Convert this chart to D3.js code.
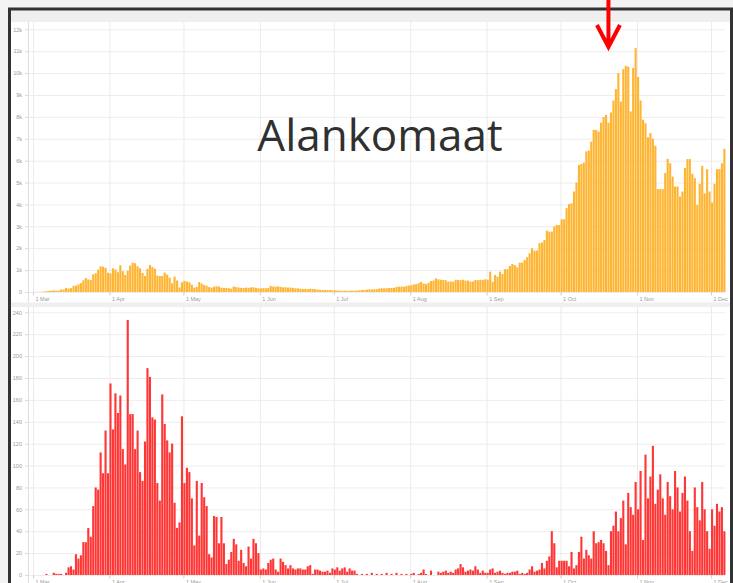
<!DOCTYPE html>
<html>
<head>
<meta charset="utf-8">
<script src="https://cdn.jsdelivr.net/npm/d3@7"></script>
<style>
  body { margin: 0; background: #f3f3f3; }
  svg { display: block; }
  .tick text { font-family: "Liberation Sans", Arial, sans-serif; fill: #9a9a9a; }
</style>
</head>
<body>
<svg id="chart" width="733" height="583"></svg>
<script>
"use strict";

// first day of the series, then one value per day
const startDate = "2020-02-27";

// daily new cases
const cases = [
    1, 1, 5,
    5, 8, 6, 14, 20, 44, 46, 60, 77, 56,
    61, 121, 111, 190, 155, 176, 278, 292, 346, 409,
    534, 637, 573, 545, 811, 852, 1019, 1172, 1159, 1104,
    884, 845, 1083, 1026, 904, 1224, 952, 777, 969, 1213,
    1335, 1316, 1174, 1083, 868, 734, 1061, 1235, 1140, 1066,
    750, 729, 734, 887, 797, 655, 400, 704, 525, 211,
    445, 514, 475, 445, 335, 199, 232, 455, 387, 319,
    286, 226, 196, 244, 264, 244, 196, 184, 190, 172,
    151, 251, 222, 204, 190, 180, 200, 190, 210, 215,
    190, 170, 165, 175, 170, 180, 275, 250, 240, 260,
    230, 210, 215, 200, 205, 190, 170, 165, 150, 140,
    145, 130, 150, 140, 130, 110, 100, 95, 90, 88,
    85, 80, 75, 70, 60, 55, 60, 55, 58, 62,
    60, 65, 80, 90, 95, 110, 120, 115, 125, 130,
    160, 170, 165, 175, 180, 185, 190, 230, 245, 250,
    240, 270, 300, 310, 340, 360, 400, 457, 380, 365,
    420, 500, 520, 625, 580, 560, 550, 540, 470, 480,
    470, 560, 550, 540, 560, 520, 520, 470, 480, 550,
    540, 560, 550, 580, 560, 930, 470, 780, 700, 930,
    820, 1040, 1040, 1190, 1280, 1230, 1130, 1340, 1340, 1460,
    1590, 1770, 2000, 1890, 1900, 2230, 2260, 2380, 2800, 2750,
    2760, 2990, 3060, 3060, 3320, 3320, 3830, 4020, 4050, 4590,
    5000, 5810, 5850, 5910, 6420, 6460, 6870, 7410, 7400, 7330,
    7740, 7990, 8090, 7740, 8200, 8750, 9270, 10000, 8700, 10180,
    10330, 10300, 8250, 10230, 11140, 9820, 8750, 7870, 7710, 7070,
    7260, 7000, 6680, 4700, 4700, 4700, 5430, 6080, 5880, 5270,
    4820, 4820, 4360, 4590, 5660, 6070, 6070, 5400, 5200, 3980,
    4940, 5760, 4510, 5610, 4590, 4090, 4940, 5610, 5610, 5880, 6540
];

// daily deaths
const deaths = [
    0, 0, 0,
    0, 0, 0, 0, 0, 1, 0, 0, 2, 1,
    1, 1, 0, 2, 7, 8, 5, 19, 15, 18,
    30, 30, 43, 35, 63, 80, 78, 112, 93, 132,
    93, 175, 133, 166, 148, 164, 115, 101, 233, 147,
    147, 115, 132, 94, 86, 122, 189, 181, 144, 142,
    84, 68, 165, 138, 123, 112, 120, 66, 43, 48,
    145, 84, 98, 94, 70, 27, 86, 36, 84, 71,
    63, 19, 16, 54, 53, 29, 53, 29, 10, 14,
    21, 33, 28, 13, 23, 11, 8, 26, 15, 33,
    29, 20, 5, 6, 5, 11, 14, 15, 5, 3,
    15, 12, 9, 6, 9, 6, 5, 6, 6, 5,
    5, 8, 9, 1, 5, 5, 4, 3, 3, 4,
    2, 6, 5, 7, 4, 6, 7, 3, 6, 4,
    4, 1, 0, 1, 0, 1, 0, 2, 0, 1,
    0, 1, 0, 2, 0, 1, 0, 2, 0, 1,
    0, 1, 0, 1, 2, 0, 1, 2, 5, 1,
    0, 4, 0, 0, 3, 2, 3, 4, 2, 3,
    2, 5, 6, 10, 7, 3, 4, 5, 4, 8,
    5, 2, 4, 2, 2, 5, 6, 2, 3, 4,
    2, 1, 2, 2, 3, 3, 4, 1, 2, 1,
    2, 5, 8, 3, 4, 5, 11, 6, 13, 17,
    40, 29, 7, 13, 13, 13, 13, 8, 21, 6,
    9, 21, 35, 15, 23, 18, 15, 40, 29, 30,
    32, 29, 22, 9, 40, 45, 58, 40, 52, 68,
    28, 75, 62, 55, 85, 60, 95, 32, 110, 70,
    90, 118, 65, 78, 92, 70, 55, 85, 72, 60,
    95, 80, 58, 75, 90, 68, 40, 22, 80, 62,
    50, 85, 60, 40, 24, 60, 45, 65, 58, 62, 40
];

const casesTicks = d3.range(0, 12001, 1000);
const deathsTicks = d3.range(0, 241, 20);
const title = "Alankomaat";
const arrowDate = "2020-10-20";

const parse = d3.utcParse("%Y-%m-%d");
const day0 = parse(startDate);
const days = cases.map((c, i) => d3.utcDay.offset(day0, i));

const svg = d3.select("#chart");

// page background, frame and panels
svg.append("rect").attr("width", 733).attr("height", 583).attr("fill", "#f3f3f3");
svg.append("rect")
    .attr("x", 9.5).attr("y", 9)
    .attr("width", 722).attr("height", 600)
    .attr("fill", "#efefef")
    .attr("stroke", "#333").attr("stroke-width", 3);

const x = d3.scaleUtc()
    .domain([parse("2020-03-01"), parse("2020-12-01")])
    .range([33, 711]);

function panel(values, ticks, top, y0, yTop, color, fmt) {
    svg.append("rect")
        .attr("x", 11).attr("y", top)
        .attr("width", 719).attr("height", y0 - top + 12)
        .attr("fill", "#fff");

    const y = d3.scaleLinear()
        .domain([0, ticks[ticks.length - 1]])
        .range([y0, yTop]);

    // horizontal grid
    svg.append("g")
        .attr("transform", "translate(28,0)")
        .call(d3.axisLeft(y).tickValues(ticks).tickSize(-697).tickFormat(""))
        .call(g => g.select(".domain").remove())
        .call(g => g.selectAll("line").attr("stroke", "#ededed"));

    // vertical grid at month starts
    svg.append("g")
        .attr("transform", `translate(0,${y0 + 4})`)
        .call(d3.axisBottom(x).ticks(d3.utcMonth.every(1)).tickSize(-(y0 + 4 - top)).tickFormat(""))
        .call(g => g.select(".domain").remove())
        .call(g => g.selectAll("line").attr("stroke", "#ebebeb"));

    // left axis
    svg.append("g")
        .attr("transform", "translate(28,0)")
        .call(d3.axisLeft(y).tickValues(ticks).tickSize(3).tickPadding(3).tickFormat(fmt))
        .call(g => g.select(".domain").remove())
        .call(g => g.selectAll("line").attr("stroke", "#d8d8d8"))
        .call(g => g.selectAll("text").attr("font-size", 5.5));
    svg.append("line")
        .attr("x1", 28.5).attr("x2", 28.5)
        .attr("y1", top).attr("y2", y0 + 12)
        .attr("stroke", "#dedede");

    // bars
    svg.append("g")
        .selectAll("rect")
        .data(values)
        .join("rect")
        .attr("x", (d, i) => x(days[i]))
        .attr("width", (d, i) => x(d3.utcDay.offset(days[i], 1)) - x(days[i]) - 0.35)
        .attr("y", d => y(d))
        .attr("height", d => y0 - y(d))
        .attr("fill", color);

    // bottom axis labels
    svg.append("g")
        .attr("transform", `translate(0,${y0})`)
        .call(d3.axisBottom(x).ticks(d3.utcMonth.every(1)).tickSize(3).tickPadding(2)
            .tickFormat(d3.utcFormat("%-d %b")))
        .call(g => g.select(".domain").remove())
        .call(g => g.selectAll("line").attr("stroke", "#d0d0d0"))
        .call(g => g.selectAll("text")
            .attr("font-size", 5.5)
            .attr("text-anchor", "start")
            .attr("dx", 2));
}

panel(cases, casesTicks, 22, 292, 29.3, "#ffb534",
    d => d === 0 ? "0" : d / 1000 + "k");

// separator between the two charts
svg.append("rect").attr("x", 11).attr("y", 302.5).attr("width", 719).attr("height", 4.5).attr("fill", "#efefef");

panel(deaths, deathsTicks, 307, 575, 312.3, "#ff3636", d => d);

// title
svg.append("text")
    .attr("x", 380).attr("y", 151)
    .attr("text-anchor", "middle")
    .attr("font-family", "'Open Sans', 'Noto Sans', sans-serif")
    .attr("font-size", 44)
    .attr("fill", "#303030")
    .text(title);

// red arrow pointing at the peak
const ax = x(parse(arrowDate)) + 1;
svg.append("path")
    .attr("d", `M${ax},0 V45 M${ax - 11.5},25 L${ax},47 L${ax + 11.5},25`)
    .attr("fill", "none")
    .attr("stroke", "#ff0000")
    .attr("stroke-width", 4);
</script>
</body>
</html>
